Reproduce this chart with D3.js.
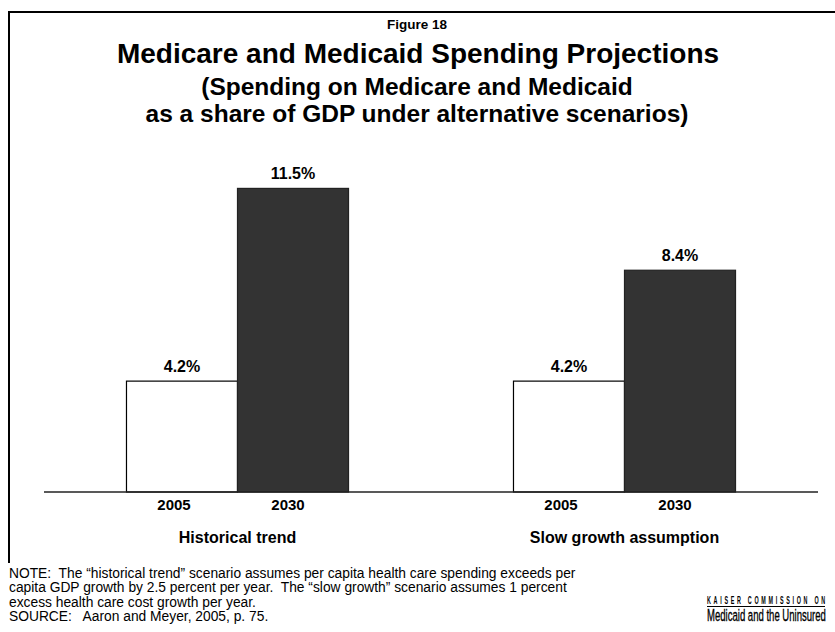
<!DOCTYPE html>
<html>
<head>
<meta charset="utf-8">
<script src="https://cdn.jsdelivr.net/npm/d3@7"></script>
<style>
  html, body { margin: 0; padding: 0; background: #fff; }
  svg { display: block; font-family: Arial, "Liberation Sans", Helvetica, sans-serif; }
</style>
</head>
<body>
<svg id="chart" width="835" height="632"></svg>
<script>
// Scenario groups and the years shown in each
const scenarios = ["Historical trend", "Slow growth assumption"];
const years = ["2005", "2030"];
// Medicare + Medicaid spending as a percent of GDP
const historicalValues = [4.2, 11.5];
const slowGrowthValues = [4.2, 8.4];
const valueLabels = [["4.2%", "11.5%"], ["4.2%", "8.4%"]];

const titleTop = "Figure 18";
const titleMain = "Medicare and Medicaid Spending Projections";
const subtitleLines = ["(Spending on Medicare and Medicaid", "as a share of GDP under alternative scenarios)"];
const noteLines = [
  "NOTE:  The \u201chistorical trend\u201d scenario assumes per capita health care spending exceeds per",
  "capita GDP growth by 2.5 percent per year.  The \u201cslow growth\u201d scenario assumes 1 percent",
  "excess health care cost growth per year.",
  "SOURCE:   Aaron and Meyer, 2005, p. 75."
];
const logoTop = "KAISER COMMISSION ON";
const logoBottom = "Medicaid and the Uninsured";

const seriesByScenario = [historicalValues, slowGrowthValues];
const data = scenarios.map((s, i) => ({
  scenario: s,
  bars: years.map((y, j) => ({ year: y, value: seriesByScenario[i][j], label: valueLabels[i][j] }))
}));

const svg = d3.select("#chart");

// Slide frame: top rule across, left rule down to the notes
svg.append("line").attr("x1", 9).attr("x2", 835).attr("y1", 12).attr("y2", 12)
  .attr("stroke", "#000").attr("stroke-width", 2);
svg.append("line").attr("x1", 9).attr("x2", 9).attr("y1", 11).attr("y2", 563)
  .attr("stroke", "#000").attr("stroke-width", 2);

// Titles
svg.append("text").attr("x", 417).attr("y", 29).attr("text-anchor", "middle")
  .attr("font-size", 13.5).attr("font-weight", "bold").text(titleTop);
svg.append("text").attr("x", 418).attr("y", 63).attr("text-anchor", "middle")
  .attr("font-size", 28).attr("font-weight", "bold").text(titleMain);
subtitleLines.forEach((t, i) => {
  svg.append("text").attr("x", 417).attr("y", 95 + i * 27).attr("text-anchor", "middle")
    .attr("font-size", 24.5).attr("font-weight", "bold").text(t);
});

// Scales
const x0 = d3.scaleBand().domain(scenarios).range([44, 818]).padding(0);
const x1 = d3.scaleBand().domain(years).range([0, x0.bandwidth()]).paddingInner(0).paddingOuter(0.743);
const y = d3.scaleLinear().domain([0, 12]).range([492, 175.2]);

const fillFor = { "2005": "#ffffff", "2030": "#333333" };
const strokeFor = { "2005": "#000000", "2030": "#222222" };

const groups = svg.append("g").selectAll("g").data(data).join("g")
  .attr("transform", d => `translate(${x0(d.scenario)},0)`);

groups.selectAll("rect").data(d => d.bars).join("rect")
  .attr("x", d => x1(d.year))
  .attr("y", d => y(d.value))
  .attr("width", x1.bandwidth())
  .attr("height", d => y(0) - y(d.value))
  .attr("fill", d => fillFor[d.year])
  .attr("stroke", d => strokeFor[d.year])
  .attr("stroke-width", 1.2);

// Value labels above bars
groups.selectAll("text.value").data(d => d.bars).join("text")
  .attr("class", "value")
  .attr("x", d => x1(d.year) + x1.bandwidth() / 2)
  .attr("y", d => y(d.value) - 9)
  .attr("text-anchor", "middle")
  .attr("font-size", 16).attr("font-weight", "bold")
  .text(d => d.label);

// Baseline
svg.append("line").attr("x1", 44).attr("x2", 818).attr("y1", y(0)).attr("y2", y(0))
  .attr("stroke", "#222").attr("stroke-width", 1.5);

// Year tick labels
groups.selectAll("text.year").data(d => d.bars).join("text")
  .attr("class", "year")
  .attr("x", (d, i) => x1(d.year) + x1.bandwidth() / 2 + (i === 0 ? -8 : -5))
  .attr("y", 510)
  .attr("text-anchor", "middle")
  .attr("font-size", 15).attr("font-weight", "bold")
  .text(d => d.year);

// Scenario labels
groups.append("text")
  .attr("x", x0.bandwidth() / 2)
  .attr("y", 543)
  .attr("text-anchor", "middle")
  .attr("font-size", 16).attr("font-weight", "bold")
  .text(d => d.scenario);

// Notes and source
noteLines.forEach((t, i) => {
  svg.append("text").attr("x", 9).attr("y", 578 + i * 14.4)
    .attr("font-size", 13.8).attr("xml:space", "preserve").style("white-space", "pre")
    .text(t);
});

// Organization mark: narrow lettering, squeezed horizontally into a fixed block
function fitText(sel, left, width) {
  const w = sel.node().getBBox().width;
  const k = width / w;
  sel.attr("transform", `translate(${left},0) scale(${k},1)`);
}
const logo = svg.append("g");
const logoTopText = logo.append("text").attr("x", 0).attr("y", 604)
  .attr("font-size", 11).attr("font-weight", "bold")
  .style("letter-spacing", "5.5px")
  .text(logoTop);
fitText(logoTopText, 707, 121);
logo.append("line").attr("x1", 707).attr("x2", 825).attr("y1", 606.5).attr("y2", 606.5)
  .attr("stroke", "#000").attr("stroke-width", 1);
const logoBottomText = logo.append("text").attr("x", 0).attr("y", 621)
  .attr("font-size", 16.5)
  .attr("stroke", "#000").attr("stroke-width", 0.35)
  .text(logoBottom);
fitText(logoBottomText, 707, 119);
</script>
</body>
</html>
